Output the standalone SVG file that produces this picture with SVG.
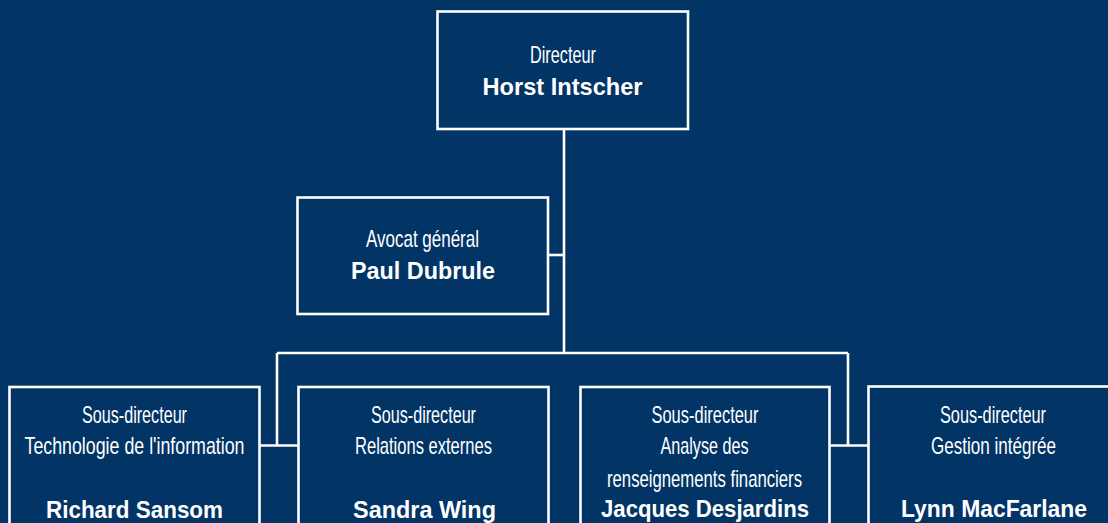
<svg xmlns="http://www.w3.org/2000/svg" width="1108" height="523" viewBox="0 0 1108 523">
<style>
.box{fill:none;stroke:#ffffff;stroke-width:2.6}
.con{fill:none;stroke:#ffffff;stroke-width:2.6}
.t{font-family:"Liberation Sans",Arial,sans-serif;font-size:24px;fill:#ffffff;text-anchor:middle}
.n{font-family:"Liberation Sans",Arial,sans-serif;font-size:24px;font-weight:bold;fill:#ffffff;text-anchor:middle}
</style>
<rect x="0" y="0" width="1108" height="523" fill="#023466"/>
<g id="connectors">
<line class="con" x1="564" y1="129" x2="564" y2="353"/>
<line class="con" x1="548" y1="255" x2="564" y2="255"/>
<line class="con" x1="277" y1="353" x2="848" y2="353"/>
<line class="con" x1="277" y1="353" x2="277" y2="445.5"/>
<line class="con" x1="848" y1="353" x2="848" y2="445.5"/>
<line class="con" x1="259.5" y1="445.5" x2="298" y2="445.5"/>
<line class="con" x1="829.5" y1="445.5" x2="868.5" y2="445.5"/>
</g>
<g id="directeur">
<rect class="box" x="437.5" y="11.5" width="250.5" height="117.5"/>
<text class="t" x="563" y="62.5" textLength="66" lengthAdjust="spacingAndGlyphs">Directeur</text>
<text class="n" x="562.5" y="95" textLength="160" lengthAdjust="spacingAndGlyphs">Horst Intscher</text>
</g>
<g id="avocat">
<rect class="box" x="297.5" y="197.5" width="250.5" height="116.5"/>
<text class="t" x="422.5" y="246.5" textLength="113" lengthAdjust="spacingAndGlyphs">Avocat général</text>
<text class="n" x="423" y="279" textLength="144" lengthAdjust="spacingAndGlyphs">Paul Dubrule</text>
</g>
<g id="sd-ti">
<rect class="box" x="9.5" y="387" width="250" height="160"/>
<text class="t" x="134.5" y="422.5" textLength="105" lengthAdjust="spacingAndGlyphs">Sous-directeur</text>
<text class="t" x="134.5" y="453.5" textLength="220" lengthAdjust="spacingAndGlyphs">Technologie de l'information</text>
<text class="n" x="134.5" y="518" textLength="177" lengthAdjust="spacingAndGlyphs">Richard Sansom</text>
</g>
<g id="sd-re">
<rect class="box" x="298.5" y="387" width="250" height="160"/>
<text class="t" x="423.5" y="422.5" textLength="105" lengthAdjust="spacingAndGlyphs">Sous-directeur</text>
<text class="t" x="423.5" y="453.5" textLength="137" lengthAdjust="spacingAndGlyphs">Relations externes</text>
<text class="n" x="424.5" y="518" textLength="143" lengthAdjust="spacingAndGlyphs">Sandra Wing</text>
</g>
<g id="sd-arf">
<rect class="box" x="580.5" y="387" width="249" height="160"/>
<text class="t" x="705" y="422.5" textLength="107" lengthAdjust="spacingAndGlyphs">Sous-directeur</text>
<text class="t" x="704.5" y="453.5" textLength="88" lengthAdjust="spacingAndGlyphs">Analyse des</text>
<text class="t" x="704.5" y="486.5" textLength="195" lengthAdjust="spacingAndGlyphs">renseignements financiers</text>
<text class="n" x="705" y="517" textLength="208" lengthAdjust="spacingAndGlyphs">Jacques Desjardins</text>
</g>
<g id="sd-gi">
<rect class="box" x="868.5" y="386.5" width="250" height="160"/>
<text class="t" x="993" y="422.5" textLength="106" lengthAdjust="spacingAndGlyphs">Sous-directeur</text>
<text class="t" x="993.5" y="453.5" textLength="125" lengthAdjust="spacingAndGlyphs">Gestion intégrée</text>
<text class="n" x="994" y="517" textLength="186" lengthAdjust="spacingAndGlyphs">Lynn MacFarlane</text>
</g>
</svg>
